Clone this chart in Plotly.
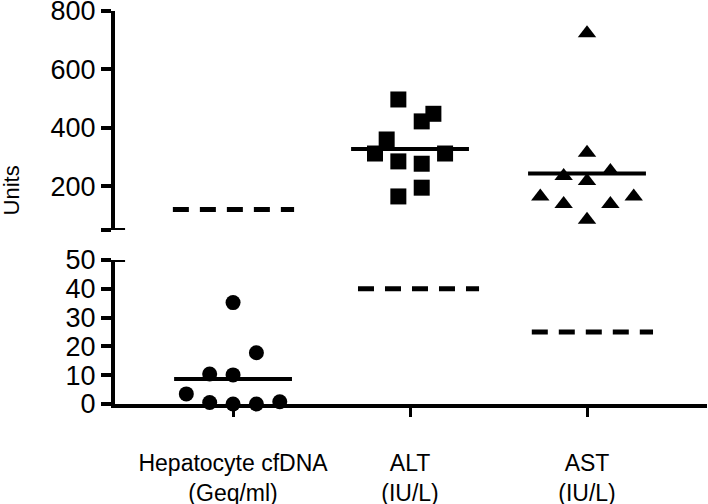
import plotly.graph_objects as go

# ---- data ----
categories = ["Hepatocyte cfDNA<br>(Geq/ml)", "ALT<br>(IU/L)", "AST<br>(IU/L)"]

hep_vals = [35.2, 17.8, 10.4, 10.1, 3.5, 0.5, 0.0, 0.0, 0.8]
hep_steps = [0, 2, -2, 0, -4, -2, 0, 2, 4]

alt_vals = [497, 448, 422, 360, 312, 312, 285, 277, 195, 165]
alt_steps = [-1, 2, 1, -2, -3, 3, -1, 1, 1, -1]

ast_vals = [724, 315, 252, 235, 218, 165, 165, 139, 139, 85]
ast_steps = [0, 0, 2, -2, 0, -4, 4, -2, 2, 0]

limits = [120, 40, 25]                 # upper-limit reference lines
limit_axes = ["y2", "y", "y"]          # hepatocyte on upper segment
limit_spans = [(-0.34, 0.345), (-0.294, 0.39), (-0.312, 0.373)]

top_ticks = [50, 200, 400, 600, 800]
top_ticktext = ["", "200", "400", "600", "800"]
bottom_ticks = [0, 10, 20, 30, 40, 50]

# ---- styling ----
FONT = "Liberation Sans, Arial, Helvetica, sans-serif"
STEP = 0.066
HALF = 0.333
BLACK = "black"

fig = go.Figure()

def add_group(cat, vals, steps, symbol, size, yaxis):
    xs = [cat + s * STEP for s in steps]
    fig.add_trace(go.Scatter(x=xs, y=vals, mode="markers", xaxis="x" if yaxis == "y" else "x2",
                             yaxis=yaxis, cliponaxis=False,
                             marker=dict(symbol=symbol, size=size, color=BLACK, line=dict(width=0)),
                             showlegend=False, hoverinfo="y"))
    m = sum(vals) / len(vals)
    fig.add_trace(go.Scatter(x=[cat - HALF, cat + HALF], y=[m, m], mode="lines",
                             xaxis="x" if yaxis == "y" else "x2", yaxis=yaxis, cliponaxis=False,
                             line=dict(color=BLACK, width=4), showlegend=False, hoverinfo="skip"))

add_group(0, hep_vals, hep_steps, "circle", 15, "y")
add_group(1, alt_vals, alt_steps, "square", 16, "y2")
add_group(2, ast_vals, ast_steps, "triangle-up", 16, "y2")

for i, (lim, ax, span) in enumerate(zip(limits, limit_axes, limit_spans)):
    fig.add_trace(go.Scatter(x=[i + span[0], i + span[1]], y=[lim, lim], mode="lines",
                             xaxis="x" if ax == "y" else "x2", yaxis=ax, cliponaxis=False,
                             line=dict(color=BLACK, width=5, dash="16px,11px"),
                             showlegend=False, hoverinfo="skip"))

xr = [-0.667, 2.678]
fig.update_layout(
    width=708, height=504,
    margin=dict(l=115, r=1, t=11, b=100),
    paper_bgcolor="white", plot_bgcolor="white",
    font=dict(family=FONT, color=BLACK),
    xaxis=dict(domain=[0, 1], range=xr, anchor="y", showgrid=False, zeroline=False,
               automargin=False,
               showline=True, linecolor=BLACK, linewidth=4,
               tickmode="array", tickvals=[0, 1, 2], ticktext=categories,
               ticks="outside", ticklen=9, tickwidth=3, tickcolor=BLACK,
               tickfont=dict(size=23, family=FONT), ticklabelstandoff=26),
    xaxis2=dict(domain=[0, 1], range=xr, anchor="y2", matches="x", showgrid=False,
                automargin=False,
                zeroline=False, showline=False, showticklabels=False, ticks=""),
    yaxis=dict(domain=[0, 0.3664], range=[0, 50], anchor="x", showgrid=False, zeroline=False,
               automargin=False, ticklabeloverflow="allow",
               showline=True, linecolor=BLACK, linewidth=4,
               tickmode="array", tickvals=bottom_ticks,
               ticks="outside", ticklen=10, tickwidth=4, tickcolor=BLACK,
               tickfont=dict(size=27, family=FONT)),
    yaxis2=dict(domain=[0.4427, 1], range=[50, 800], anchor="x2", showgrid=False, zeroline=False,
                automargin=False, ticklabeloverflow="allow",
                showline=True, linecolor=BLACK, linewidth=4,
                tickmode="array", tickvals=top_ticks, ticktext=top_ticktext,
                ticks="outside", ticklen=10, tickwidth=4, tickcolor=BLACK,
                tickfont=dict(size=27, family=FONT)),
    annotations=[dict(text="Units", textangle=-90, xref="paper", yref="paper",
                      x=-0.175, y=0.5445, xanchor="center", yanchor="middle",
                      showarrow=False, font=dict(size=22, family=FONT))],
    shapes=[
        dict(type="line", xref="x2 domain", yref="y2", x0=0, x1=0.017, y0=50, y1=50,
             line=dict(color=BLACK, width=4)),
        dict(type="line", xref="x domain", yref="y", x0=0, x1=0.017, y0=50, y1=50,
             line=dict(color=BLACK, width=4)),
    ],
)

fig.write_html("out.html", config={"displayModeBar": False},
               post_script="document.body.style.margin='0';document.body.style.overflow='hidden';")
